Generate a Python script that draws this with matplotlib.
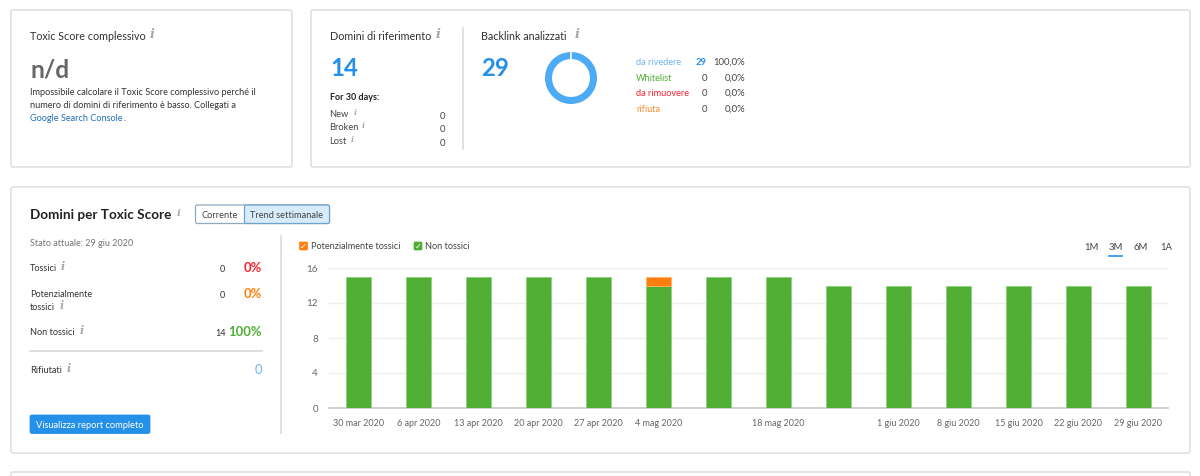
import matplotlib
matplotlib.use('Agg')
import matplotlib.pyplot as plt
from matplotlib.patches import FancyBboxPatch

plt.rcParams['font.family'] = ['Lato', 'DejaVu Sans']

# chart data
weeks = ['30 mar 2020', '6 apr 2020', '13 apr 2020', '20 apr 2020', '27 apr 2020',
         '4 mag 2020', '11 mag 2020', '18 mag 2020', '25 mag 2020', '1 giu 2020',
         '8 giu 2020', '15 giu 2020', '22 giu 2020', '29 giu 2020']
hidden_weeks = ['11 mag 2020', '25 mag 2020']
non_tossici = [15, 15, 15, 15, 15, 14, 15, 15, 14, 14, 14, 14, 14, 14]
potenzialmente = [0, 0, 0, 0, 0, 1, 0, 0, 0, 0, 0, 0, 0, 0]
y_ticks = [0, 4, 8, 12, 16]

# side panels
backlink_labels = ['da rivedere', 'Whitelist', 'da rimuovere', 'rifiuta']
backlink_counts = [29, 0, 0, 0]
backlink_pct = ['100,0%', '0,0%', '0,0%', '0,0%']
backlink_colors = ['#6db3f2', '#4fae33', '#f5222d', '#ff8c2e']
new_broken_lost = [('New', 0), ('Broken', 0), ('Lost', 0)]
periods = ['1M', '3M', '6M', '1A']

DARK = '#333333'
GREY = '#757575'
BLUE = '#2590e8'
GREEN = '#4fae33'
ORANGE = '#ff7f0e'

W, H = 1200, 476
fig = plt.figure(figsize=(W / 100, H / 100), dpi=100)
bg = fig.add_axes([0, 0, 1, 1])
bg.set_xlim(0, W)
bg.set_ylim(H, 0)
bg.axis('off')


def px(size):
    return size * 0.72


def label(x, y, s, size=11, color=DARK, **kw):
    kw.setdefault('va', 'center')
    bg.text(x, y + size * 0.07, s, fontsize=px(size), color=color, **kw)


def info(x, y, size=12):
    bg.text(x, y, 'i', fontsize=px(size), color='#a8a8a8', family='DejaVu Serif',
            style='italic', weight='bold', va='center', ha='center')


def card(x0, y0, x1, y1):
    bg.add_patch(FancyBboxPatch((x0, y0), x1 - x0, y1 - y0, boxstyle='round,pad=0,rounding_size=2',
                                fc='white', ec='#e0e0e0', lw=1.2))


def checkbox(x, y, color):
    bg.add_patch(FancyBboxPatch((x, y), 8, 8, boxstyle='round,pad=0,rounding_size=1', fc=color, ec=color, lw=0.5))
    bg.text(x + 4, y + 4, '\u2713', fontsize=6, color='white', ha='center', va='center',
            family='DejaVu Sans', weight='bold')


card(11, 10, 292, 167)
card(311, 10, 1190, 167)
card(11, 187, 1190, 453)
card(11, 472, 1190, 490)

# toxic score card
label(30, 36, 'Toxic Score complessivo', 10.8)
info(152.5, 34, 13)
label(30, 68, 'n/d', 24.5, '#666666', weight='bold')
label(30, 92, 'Impossibile calcolare il Toxic Score complessivo perché il', 9.1)
label(30, 105, 'numero di domini di riferimento è basso. Collegati a', 9.1)
label(30, 118, 'Google Search Console', 9.1, '#1f6fb8')
label(123, 118, '.', 9.1)

# referring domains card
label(329.5, 36, 'Domini di riferimento', 10.8)
info(438, 34, 13)
label(330, 67, '14', 24, BLUE, weight='bold')
label(329.5, 97, 'For 30 days:', 9, '#222222', weight='bold')
for i, (name, val) in enumerate(new_broken_lost):
    label(329.5, 113.5 + i * 13.5, name, 9.3, '#444444')
    info(355 + (8 if name == 'Broken' else 0) - (3 if name == 'Lost' else 0), 113 + i * 13.5, 8)
    label(445, 115.5 + i * 13.5, str(val), 9.5, '#444444', ha='right')
bg.plot([462.5, 462.5], [28, 149], color='#dcdcdc', lw=1.2)

# backlinks card
label(481, 36, 'Backlink analizzati', 10.8)
info(577, 34, 13)
label(481, 67, '29', 24, BLUE, weight='bold')
for i, name in enumerate(backlink_labels):
    yy = 62 + i * 15.5
    label(636, yy, name, 9.1, backlink_colors[i])
    label(707, yy, str(backlink_counts[i]), 9.5, BLUE if backlink_counts[i] else '#444444',
          ha='right', weight='bold' if backlink_counts[i] else 'normal')
    label(745, yy, backlink_pct[i], 9.5, '#444444', ha='right')

donut = fig.add_axes([545 / W, 1 - 104 / H, 52 / W, 52 / H])
donut.pie([sum(backlink_counts)], colors=['#4dabf5'], radius=1, startangle=90,
          wedgeprops={'width': 0.27})
donut.plot([0, 0], [0.6, 1.05], color='white', lw=1.2)
donut.set_xlim(-1, 1)
donut.set_ylim(-1, 1)

# bottom card, left side
label(30, 214, 'Domini per Toxic Score', 13.5, '#222222', weight='bold')
info(179, 214, 10)
bg.add_patch(FancyBboxPatch((195.5, 205), 134, 18.5, boxstyle='round,pad=0,rounding_size=2',
                            fc='white', ec='#8fa9bd', lw=0.9))
bg.add_patch(FancyBboxPatch((244.5, 205), 85, 18.5, boxstyle='round,pad=0,rounding_size=2',
                            fc='#d8ebfa', ec='#6ea4cc', lw=0.9))
label(220, 215, 'Corrente', 9.3, '#444444', ha='center')
label(287, 215, 'Trend settimanale', 9.3, '#444444', ha='center')

label(30, 243, 'Stato attuale: 29 giu 2020', 9, GREY)
label(30, 268, 'Tossici', 9.2)
info(63, 267, 11)
label(225.5, 268.5, '0', 9.2, ha='right')
label(262, 267.5, '0%', 13, '#f5222d', ha='right', weight='bold')
label(30, 293.5, 'Potenzialmente', 9.2)
label(30, 306.5, 'tossici', 9.2)
info(62, 305.5, 11)
label(225.5, 294.5, '0', 9.2, ha='right')
label(262, 293.5, '0%', 13, ORANGE, ha='right', weight='bold')
label(30, 331.5, 'Non tossici', 9.2)
info(81.5, 331, 11)
label(225.5, 332.5, '14', 9.2, ha='right')
label(262, 331.5, '100%', 13, GREEN, ha='right', weight='bold')
bg.plot([30, 262], [351, 351], color='#d8d8d8', lw=1.2)
label(30, 370, 'Rifiutati', 9.2)
info(69, 369, 11)
label(262, 369.5, '0', 13, '#6db3f2', ha='right')
bg.add_patch(FancyBboxPatch((30, 415), 120, 18.5, boxstyle='round,pad=0,rounding_size=2',
                            fc=BLUE, ec=BLUE, lw=0.6))
label(90, 425, 'Visualizza report completo', 9.3, 'white', ha='center')
bg.plot([281, 281], [236, 433], color='#dcdcdc', lw=1.2)

# legend and period switch
checkbox(299.5, 242, ORANGE)
label(311, 246, 'Potenzialmente tossici', 9.2, '#444444')
checkbox(414, 242, GREEN)
label(425, 246, 'Non tossici', 9.2, '#444444')
for name, xx in zip(periods, [1091, 1116, 1141, 1166]):
    label(xx, 246.5, name, 9.5, '#444444', ha='center')
bg.plot([1109, 1122], [256, 256], color=BLUE, lw=1.2)

# stacked bars
ax = fig.add_axes([329 / W, 1 - 408 / H, 839 / W, 140 / H])
ax.patch.set_alpha(0)
xs = list(range(len(weeks)))
ax.bar(xs, non_tossici, width=25 / 60, color=GREEN, edgecolor='#8fd07e', lw=0.6, zorder=3)
# empty segments would still show their edge, so leave them out
top = [x for x in xs if potenzialmente[x] > 0]
ax.bar(top, [potenzialmente[x] for x in top], bottom=[non_tossici[x] for x in top], width=25 / 60,
       color=ORANGE, edgecolor='#ffb26b', lw=0.6, zorder=3)
ax.set_xlim(-29.5 / 60, 809.5 / 60)
ax.set_ylim(0, 16)
ax.set_yticks(y_ticks)
ax.grid(axis='y', color='#eeeeee', lw=1, zorder=0)
ax.set_xticks([x for x in xs if weeks[x] not in hidden_weeks])
ax.set_xticklabels([w for w in weeks if w not in hidden_weeks])
ax.tick_params(axis='x', length=0, pad=8, labelsize=px(9), labelcolor='#666666')
ax.tick_params(axis='y', length=0, pad=8, labelsize=px(9.8), labelcolor='#666666')
for side in ['top', 'left', 'right']:
    ax.spines[side].set_visible(False)
ax.spines['bottom'].set_color('#c8c8c8')
ax.spines['bottom'].set_linewidth(1.2)

fig.savefig('out.png', dpi=100)
